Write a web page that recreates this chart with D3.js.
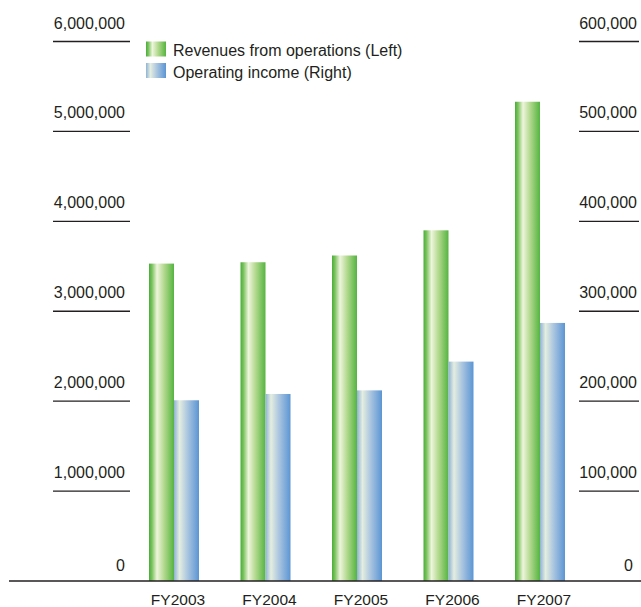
<!DOCTYPE html>
<html>
<head>
<meta charset="utf-8">
<script src="https://cdn.jsdelivr.net/npm/d3@7"></script>
<style>
  body { margin: 0; background: #fff; }
  text { font-family: "Liberation Sans", Arial, sans-serif; fill: #231f20; }
</style>
</head>
<body>
<script>
var years = ["FY2003", "FY2004", "FY2005", "FY2006", "FY2007"]
var revenues = [3530000, 3545000, 3620000, 3900000, 5330000]
var opIncome = [201000, 208000, 212000, 244000, 287000]
var leftTicks = [0, 1000000, 2000000, 3000000, 4000000, 5000000, 6000000]
var rightTicks = [0, 100000, 200000, 300000, 400000, 500000, 600000]
var legendLabels = ["Revenues from operations (Left)", "Operating income (Right)"]

var w = 641, h = 607

var svg = d3.select("body").append("svg")
    .attr("width", w).attr("height", h)

// gradients for the glossy bars
var defs = svg.append("defs")
function grad(id, stops) {
  var g = defs.append("linearGradient").attr("id", id)
      .attr("x1", "0%").attr("x2", "100%").attr("y1", "0%").attr("y2", "0%")
  stops.forEach(function(s){
    g.append("stop").attr("offset", s[0]).attr("stop-color", s[1])
  })
}
grad("gGreen", [["0%", "#47ad37"], ["12%", "#7cc35f"], ["32%", "#eef5dc"], ["60%", "#b3d98f"], ["100%", "#55b440"]])
grad("gBlue", [["0%", "#8fb2d6"], ["22%", "#e4eee0"], ["55%", "#a9c4df"], ["100%", "#5b95d4"]])

var y = d3.scaleLinear().domain([0, 6000000]).range([581, 41.5])
var y2 = d3.scaleLinear().domain([0, 600000]).range([581, 41.5])
var x = d3.scaleBand().domain(years).range([128.25, 585.75])
    .paddingInner(0.4536).paddingOuter(0.2268)
var sub = d3.scaleBand().domain(["rev", "op"]).range([0, x.bandwidth()])

// left tick lines + labels
var lt = svg.append("g").selectAll("g").data(leftTicks.slice(1)).enter().append("g")
    .attr("transform", function(d){ return "translate(0," + y(d) + ")" })
lt.append("line").attr("x1", 53).attr("x2", 130).attr("stroke", "#231f20").attr("stroke-width", 1.3)
lt.append("text").attr("x", 125).attr("y", -13).attr("text-anchor", "end")
    .style("font-size", "16px").text(d3.format(","))

// right tick lines + labels
var rt = svg.append("g").selectAll("g").data(rightTicks.slice(1)).enter().append("g")
    .attr("transform", function(d){ return "translate(0," + y2(d) + ")" })
rt.append("line").attr("x1", 579).attr("x2", 639).attr("stroke", "#231f20").attr("stroke-width", 1.3)
rt.append("text").attr("x", 637).attr("y", -13).attr("text-anchor", "end")
    .style("font-size", "16px").text(d3.format(","))

// zero labels
svg.append("text").attr("x", 125).attr("y", y(0) - 10).attr("text-anchor", "end")
    .style("font-size", "16px").text(d3.format(",")(leftTicks[0]))
svg.append("text").attr("x", 633).attr("y", y2(0) - 10).attr("text-anchor", "end")
    .style("font-size", "16px").text(d3.format(",")(rightTicks[0]))

// bars
svg.append("g").selectAll("rect").data(revenues).enter().append("rect")
    .attr("x", function(d, i){ return x(years[i]) + sub("rev") })
    .attr("y", function(d){ return y(d) })
    .attr("width", sub.bandwidth())
    .attr("height", function(d){ return y(0) - y(d) })
    .attr("fill", "url(#gGreen)")

svg.append("g").selectAll("rect").data(opIncome).enter().append("rect")
    .attr("x", function(d, i){ return x(years[i]) + sub("op") })
    .attr("y", function(d){ return y2(d) })
    .attr("width", sub.bandwidth())
    .attr("height", function(d){ return y2(0) - y2(d) })
    .attr("fill", "url(#gBlue)")

// baseline
svg.append("line").attr("x1", 9).attr("x2", 641).attr("y1", y(0)).attr("y2", y(0))
    .attr("stroke", "#231f20").attr("stroke-width", 1.5)

// category labels
svg.append("g").selectAll("text").data(years).enter().append("text")
    .attr("x", function(d){ return x(d) + x.bandwidth() / 2 + 4 })
    .attr("y", 605)
    .attr("text-anchor", "middle")
    .style("font-size", "15.5px")
    .text(function(d){ return d })

// legend
var lg = svg.append("g").selectAll("g").data(legendLabels).enter().append("g")
    .attr("transform", function(d, i){ return "translate(146," + (41.5 + i * 21.5) + ")" })
lg.append("rect").attr("width", 20).attr("height", 15)
    .attr("fill", function(d, i){ return i == 0 ? "url(#gGreen)" : "url(#gBlue)" })
lg.append("text").attr("x", 27).attr("y", 14.5).style("font-size", "16px").text(function(d){ return d })
</script>
</body>
</html>
